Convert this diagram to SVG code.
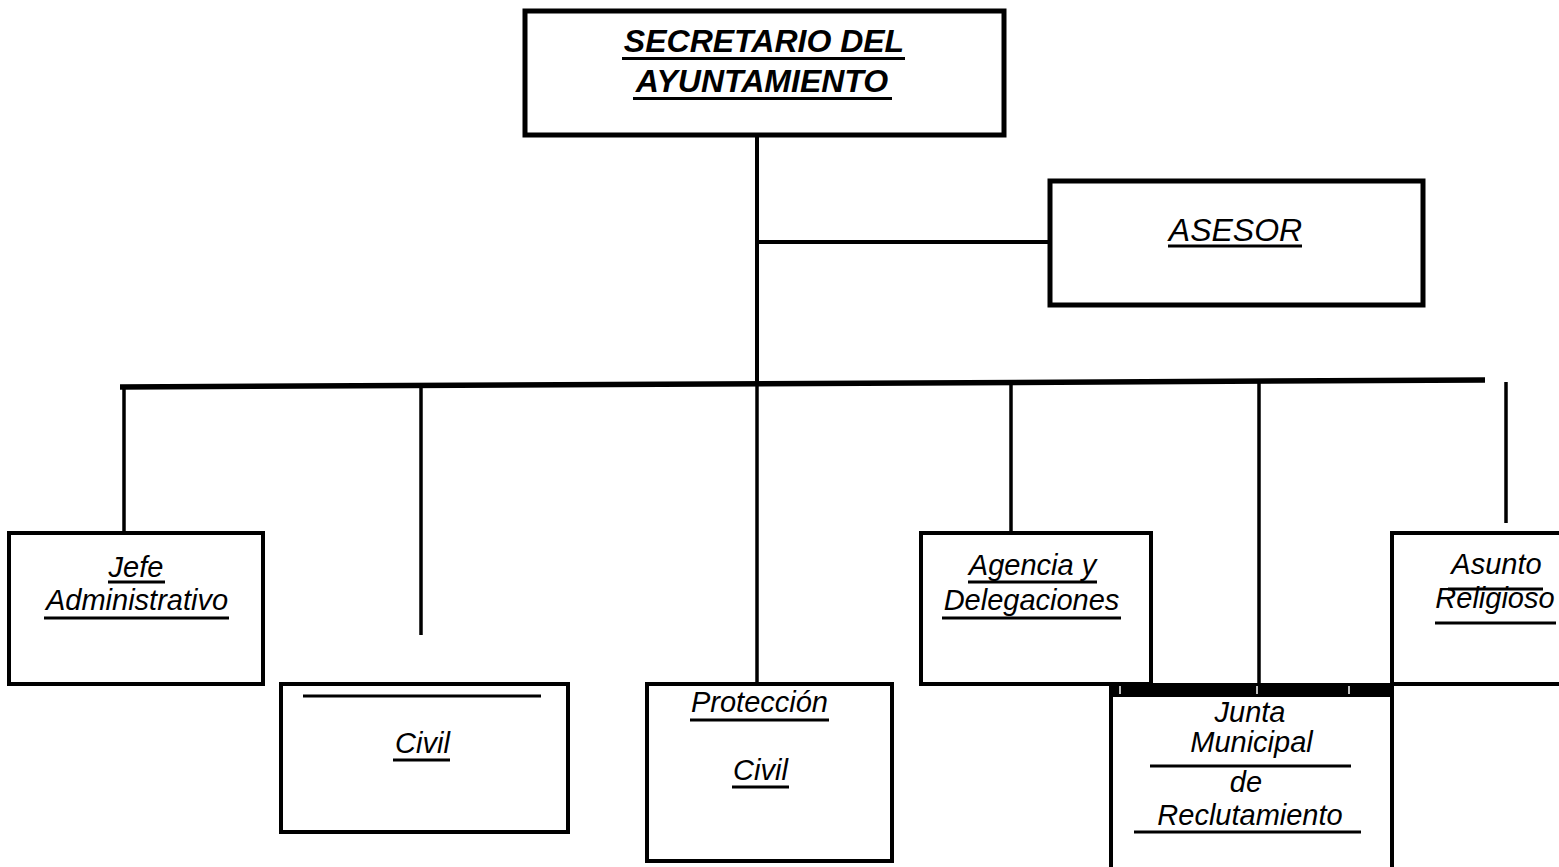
<svg xmlns="http://www.w3.org/2000/svg" width="1559" height="867" viewBox="0 0 1559 867">
<style>
.box{fill:none;stroke:#000;stroke-width:4}
.thick{fill:none;stroke:#000;stroke-width:5;stroke-linecap:round;stroke-linejoin:miter}
.ln{stroke:#000;stroke-width:3.5;fill:none}
.ul{stroke:#000;stroke-width:3}
.t{font-family:"Liberation Sans",Arial,sans-serif;font-style:italic;font-size:29px;fill:#000;text-anchor:middle}
.tb{font-family:"Liberation Sans",Arial,sans-serif;font-style:italic;font-weight:bold;font-size:32px;fill:#000;text-anchor:middle}
.ta{font-family:"Liberation Sans",Arial,sans-serif;font-style:italic;font-size:32px;fill:#000;text-anchor:middle}
</style>
<rect width="1559" height="867" fill="#fff"/>
<g id="connectors">
<line class="ln" x1="757" y1="135" x2="757" y2="385" style="stroke-width:4"/>
<line class="ln" x1="757" y1="242" x2="1050" y2="242" style="stroke-width:4"/>
<line x1="120" y1="387" x2="1485" y2="380" stroke="#000" stroke-width="5.5"/>
<line class="ln" x1="124" y1="387" x2="124" y2="533"/>
<line class="ln" x1="421" y1="386" x2="421" y2="635"/>
<line class="ln" x1="757" y1="384" x2="757" y2="684"/>
<line class="ln" x1="1011" y1="383" x2="1011" y2="533"/>
<line class="ln" x1="1259" y1="382" x2="1259" y2="684"/>
<line class="ln" x1="1506" y1="382" x2="1506" y2="523"/>
</g>
<g id="secretario">
<rect class="thick" x="525" y="11" width="479" height="124"/>
<text class="tb" x="764" y="52">SECRETARIO DEL</text>
<line class="ul" x1="622" y1="58.5" x2="905" y2="58.5"/>
<text class="tb" x="762" y="92">AYUNTAMIENTO</text>
<line class="ul" x1="633" y1="98.5" x2="892" y2="98.5"/>
</g>
<g id="asesor">
<rect class="thick" x="1050" y="181" width="373" height="124"/>
<text class="ta" x="1235.5" y="241">ASESOR</text>
<line class="ul" x1="1168" y1="246" x2="1302" y2="246"/>
</g>
<g id="jefe">
<rect class="box" x="9" y="533" width="254" height="151"/>
<text class="t" x="136" y="577">Jefe</text>
<line class="ul" x1="108" y1="582" x2="165" y2="582"/>
<text class="t" x="137" y="610">Administrativo</text>
<line class="ul" x1="44" y1="618" x2="229" y2="618"/>
</g>
<g id="civil1">
<rect class="box" x="281" y="684" width="287" height="148"/>
<line class="ul" x1="303" y1="696" x2="541" y2="696"/>
<text class="t" x="422.5" y="753">Civil</text>
<line class="ul" x1="393" y1="760" x2="450" y2="760"/>
</g>
<g id="proteccion">
<rect class="box" x="647" y="684" width="245" height="177"/>
<text class="t" x="759.5" y="712">Protección</text>
<line class="ul" x1="690" y1="720" x2="829" y2="720"/>
<text class="t" x="760.5" y="780">Civil</text>
<line class="ul" x1="732" y1="787" x2="789" y2="787"/>
</g>
<g id="agencia">
<rect class="box" x="921" y="533" width="230" height="151"/>
<text class="t" x="1032.5" y="575">Agencia y</text>
<line class="ul" x1="968" y1="582" x2="1097" y2="582"/>
<text class="t" x="1031.5" y="610">Delegaciones</text>
<line class="ul" x1="942" y1="618" x2="1121" y2="618"/>
</g>
<g id="asunto">
<path class="box" d="M1561,533 H1392 V684 H1561"/>
<text class="t" x="1496.5" y="574">Asunto</text>
<line class="ul" x1="1448" y1="589" x2="1543" y2="589"/>
<text class="t" x="1495" y="608">Religioso</text>
<line class="ul" x1="1435" y1="623" x2="1556" y2="623"/>
</g>
<g id="junta">
<path class="box" d="M1111,690 V869 M1392,690 V869"/>
<rect x="1109" y="683" width="285" height="14" fill="#000"/>
<line x1="1120" y1="686" x2="1120" y2="694" stroke="#fff" stroke-width="1.5"/>
<line x1="1257" y1="686" x2="1257" y2="694" stroke="#fff" stroke-width="1.5"/>
<line x1="1349" y1="686" x2="1349" y2="694" stroke="#fff" stroke-width="1.5"/>
<text class="t" x="1250" y="722">Junta</text>
<text class="t" x="1251.5" y="752">Municipal</text>
<line class="ul" x1="1150" y1="766" x2="1351" y2="766"/>
<text class="t" x="1246" y="792">de</text>
<text class="t" x="1250" y="825">Reclutamiento</text>
<line class="ul" x1="1134" y1="832" x2="1361" y2="832"/>
</g>
</svg>
